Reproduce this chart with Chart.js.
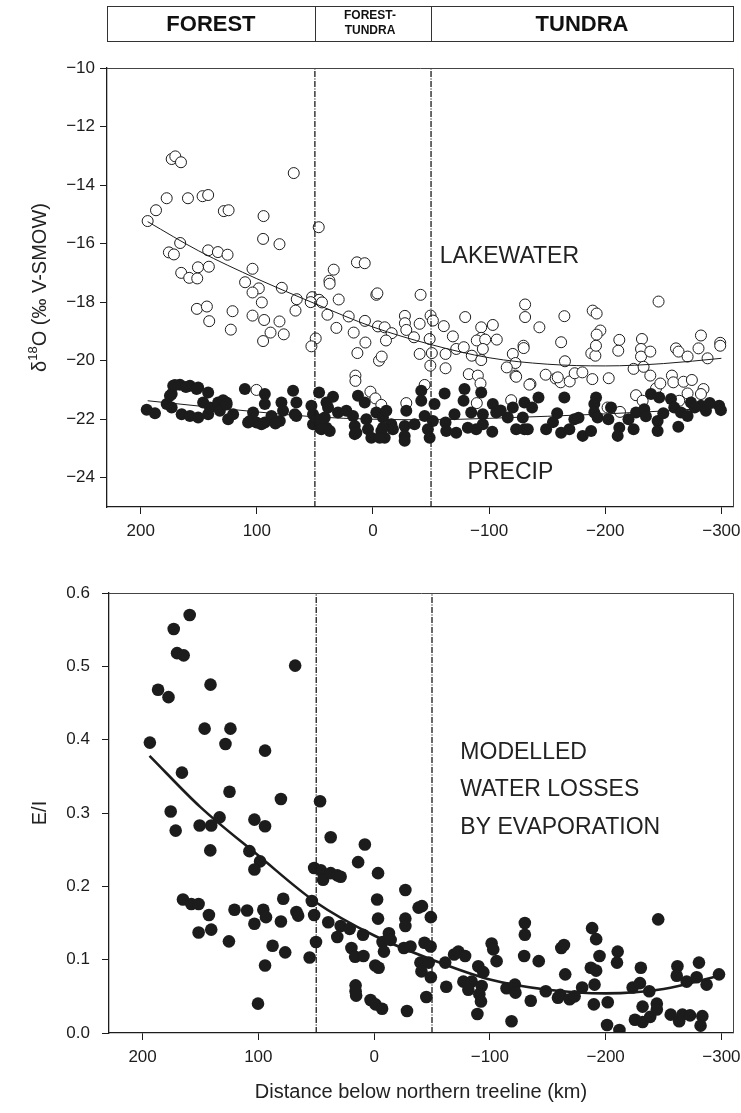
<!DOCTYPE html>
<html><head><meta charset="utf-8">
<script src="https://cdn.jsdelivr.net/npm/chart.js@4.4.1/dist/chart.umd.min.js"></script>
<style>
html,body{margin:0;padding:0;background:#fff;}
#wrap{position:relative;width:741px;height:1113px;overflow:hidden;}
canvas{position:absolute;left:0;}
#c1{top:0;} #c2{top:560px;}
</style></head><body>
<div id="wrap"><canvas id="c1" width="741" height="560"></canvas><canvas id="c2" width="741" height="553"></canvas></div>
<script>
// ---------- DATA ----------
const zoneBounds = [50, -50];
const zoneNames = ['FOREST', ['FOREST-', 'TUNDRA'], 'TUNDRA'];
const xTickValues = [200, 100, 0, -100, -200, -300];
const xTickLabels = ['200', '100', '0', '\u2212100', '\u2212200', '\u2212300'];
const isoTickValues = [-10, -12, -14, -16, -18, -20, -22, -24];
const isoTickLabels = ['\u221210', '\u221212', '\u221214', '\u221216', '\u221218', '\u221220', '\u221222', '\u221224'];
const eiTickValues = [0, 0.1, 0.2, 0.3, 0.4, 0.5, 0.6];
const eiTickLabels = ['0.0', '0.1', '0.2', '0.3', '0.4', '0.5', '0.6'];

// lakewater δ18O (open circles) [distance km, δ18O]
const lakewater = [[194,-15.23],[186.8,-14.86],[177.6,-14.45],[173.3,-13.11],[170.2,-13.02],[165.3,-13.22],[159.3,-14.45],[146.7,-14.38],[141.9,-14.34],[128.4,-14.89],[124.3,-14.86],[94.2,-15.06],[68.2,-13.59],[46.7,-15.44],[166,-15.98],[175.7,-16.3],[171.4,-16.37],[141.9,-16.23],[133.5,-16.29],[125.2,-16.38],[94.6,-15.84],[80.5,-16.02],[165.1,-17.0],[158.2,-17.17],[151.3,-17.19],[150.7,-16.81],[141.3,-16.79],[103.7,-16.86],[110.1,-17.32],[98.3,-17.53],[103.7,-17.67],[95.7,-18.01],[78.5,-17.51],[65.6,-17.9],[66.7,-18.29],[52.4,-17.83],[46.4,-17.92],[53.6,-18.0],[43.9,-18.01],[151.6,-18.23],[143,-18.15],[141,-18.65],[120.9,-18.31],[122.4,-18.94],[103.7,-18.46],[93.7,-18.61],[80.5,-18.66],[88.2,-19.04],[76.8,-19.1],[94.6,-19.33],[49.3,-19.24],[53,-19.51],[39.2,-18.43],[33.8,-16.89],[37.5,-17.27],[37.3,-17.37],[29.5,-17.91],[31.5,-18.88],[20.9,-18.49],[16.6,-19.04],[13.8,-16.64],[7.1,-16.67],[6.9,-18.64],[6.5,-19.38],[-2.9,-17.75],[-3.8,-17.7],[-4.3,-18.83],[-10.1,-18.86],[-16.1,-19.06],[-11.2,-19.31],[-27.5,-18.47],[-27.5,-18.72],[-28.7,-18.95],[-35.3,-19.2],[-41,-17.75],[13.4,-19.74],[-5.2,-20.0],[-7.5,-19.86],[-40.2,-18.74],[-40.2,-19.77],[15.1,-20.51],[15.1,-20.69],[100.3,-21.0],[2.2,-21.06],[-2.1,-21.29],[-7.2,-21.51],[-28.7,-21.45],[-49.6,-18.46],[-51.6,-18.63],[-61,-18.82],[-79.4,-18.51],[-48.8,-19.26],[-68.8,-19.17],[-93.2,-18.86],[-103.2,-18.78],[-93.2,-19.22],[-89.4,-19.31],[-96.6,-19.28],[-106.6,-19.28],[-131,-18.08],[-131,-18.51],[-143.3,-18.86],[-164.8,-18.48],[-189.2,-18.29],[-192.6,-18.39],[-195.8,-18.97],[-192.6,-19.11],[-245.9,-17.98],[-212.1,-19.29],[-231.6,-19.26],[-282.4,-19.14],[-299,-19.39],[-299,-19.49],[-162,-19.37],[-129.6,-19.49],[-50.7,-19.74],[-49.4,-20.17],[-62.5,-19.77],[-62.5,-20.26],[-71.7,-19.6],[-78.2,-19.54],[-85.1,-19.83],[-82.5,-20.46],[-90.3,-20.51],[-92.6,-20.78],[-93.2,-19.98],[-94.6,-19.6],[-120.4,-19.77],[-122.7,-20.08],[-115.2,-20.23],[-122.7,-20.51],[-129.8,-19.57],[-135.6,-20.8],[-119,-21.35],[-148.7,-20.48],[-157.3,-20.61],[-165.3,-20.02],[-161.6,-20.74],[-169.4,-20.71],[-173.7,-20.43],[-180.3,-20.4],[-188.9,-20.63],[-188,-19.75],[-191.5,-19.83],[-192,-19.49],[-203,-20.6],[-202,-21.6],[-211.2,-19.66],[-212.7,-21.75],[-224.4,-20.28],[-226.5,-21.18],[-230.8,-19.6],[-230.8,-19.86],[-233,-20.21],[-232.2,-21.37],[-238.8,-19.69],[-238.8,-20.51],[-243.7,-20.95],[-247.4,-20.78],[-257.4,-20.51],[-258.6,-20.74],[-260.9,-19.58],[-263.1,-19.69],[-267.4,-20.72],[-270.9,-19.86],[-274.6,-20.66],[-270.9,-21.12],[-263.7,-21.37],[-280.3,-19.58],[-284.6,-20.97],[-282.4,-21.14],[-288.1,-19.92],[-44.5,-20.83],[-89.4,-21.45],[-123.3,-20.55],[-134.7,-20.82],[-159.1,-20.57]];

// precipitation δ18O (filled circles)
const precip = [[194.8,-21.68],[187.7,-21.8],[177.6,-21.48],[173.3,-21.6],[172,-20.86],[166.2,-20.82],[173.3,-21.14],[164.7,-21.83],[157.6,-20.86],[150.5,-20.92],[157.6,-21.89],[150.5,-21.94],[141.9,-21.09],[146.2,-21.43],[141.9,-21.83],[140.4,-21.6],[133.3,-21.43],[131.8,-21.71],[126.1,-21.43],[124.7,-22.0],[120.4,-21.83],[110.3,-20.97],[93.1,-21.14],[93.1,-21.48],[103.2,-21.77],[106,-22.06],[100.3,-22.11],[93.1,-22.11],[87.4,-21.89],[80.2,-22.06],[78.8,-21.43],[77.4,-21.71],[68.8,-21.03],[65.9,-21.43],[67.3,-21.83],[53,-21.54],[51.6,-21.83],[46.4,-21.09],[51.6,-22.17],[45.8,-22.29],[40,-21.43],[40,-22.29],[174.8,-21.2],[170.5,-20.83],[161,-20.9],[151.8,-20.97],[129,-21.35],[126,-21.5],[107.5,-22.11],[96,-22.17],[84,-22.15],[66,-21.89],[48,-22.0],[34.4,-21.23],[38.7,-21.6],[41.5,-21.94],[44.4,-22.34],[37.2,-22.4],[30.1,-21.77],[22.9,-21.71],[17.2,-21.89],[12.9,-21.2],[7.1,-21.43],[15.7,-22.23],[15.7,-22.51],[5.7,-22.0],[4.3,-22.34],[1.4,-22.63],[-2.9,-21.77],[-8.6,-21.94],[-7.2,-22.4],[-10.1,-22.63],[-11.5,-21.71],[-15.8,-22.17],[-17.2,-22.34],[-27.3,-22.23],[-27.3,-22.57],[-28.7,-21.71],[-27.3,-22.74],[-35.8,-22.17],[-41.6,-21.03],[-41.6,-21.37],[-44.5,-21.89],[-47.3,-22.34],[-48.8,-22.63],[-53,-21.48],[-51.6,-22.06],[-61.7,-21.12],[-62.5,-22.11],[-63.1,-22.4],[-70.2,-21.83],[-71.7,-22.46],[-78.8,-20.97],[-78,-21.37],[-84.6,-21.77],[-81.7,-22.29],[-88.9,-22.34],[-93.2,-21.09],[-94.6,-21.83],[-94.6,-22.17],[-103.2,-21.48],[-106.1,-21.77],[-102.7,-22.43],[-116.1,-21.94],[-120.4,-21.6],[-130.4,-21.43],[-129,-21.94],[-123.3,-22.34],[-130.4,-22.34],[-142.5,-21.26],[-133.3,-22.34],[-149.1,-22.34],[-158.6,-21.8],[-164.8,-21.26],[-162,-22.46],[-169.1,-22.34],[-173.4,-22.0],[-180.6,-22.57],[-187.8,-22.4],[-190.6,-21.48],[-192.1,-21.26],[-190.6,-21.77],[-193.4,-21.94],[-202.7,-22.0],[-212.1,-22.29],[-210.7,-22.57],[-224.4,-22.34],[-226.5,-21.77],[-233.6,-21.66],[-239.4,-21.14],[-246.5,-21.26],[-245.1,-22.06],[-245.1,-22.4],[-256.6,-21.31],[-259.4,-21.6],[-262.9,-22.26],[-265.2,-21.77],[-270.9,-21.89],[-273.8,-21.43],[-282.4,-21.54],[-286.7,-21.71],[-298.1,-21.54],[-299.6,-21.69],[-110,-21.7],[-137,-21.6],[-155,-22.1],[-177,-21.95],[-205,-21.6],[-220,-22.0],[-235,-21.9],[-250,-21.8],[-277,-21.6],[-290,-21.45],[-5.8,-22.63],[-8.6,-22.29],[14.3,-22.46]];

// fitted trends
const lakeFit = [[194,-15.25],[150,-16.25],[100,-17.2],[50,-18.05],[0,-18.85],[-50,-19.45],[-100,-19.9],[-150,-20.12],[-200,-20.18],[-250,-20.1],[-300,-19.92]];
const precipFit = [[194,-21.37],[150,-21.55],[100,-21.75],[50,-21.92],[0,-22.0],[-50,-22.02],[-100,-21.97],[-150,-21.9],[-200,-21.82],[-250,-21.72],[-300,-21.6]];

// modelled E/I (filled circles)
const evapInflow = [[193.7,0.396],[186.6,0.468],[177.6,0.458],[173.1,0.551],[170.2,0.518],[164.5,0.515],[159.3,0.570],[141.3,0.475],[146.4,0.415],[124.1,0.415],[128.4,0.394],[94.2,0.385],[68.2,0.501],[166,0.355],[124.9,0.329],[80.5,0.319],[46.7,0.316],[175.7,0.302],[133.5,0.294],[103.4,0.291],[171.4,0.276],[150.7,0.283],[140.7,0.283],[94.2,0.282],[141.5,0.249],[107.7,0.248],[98.5,0.234],[103.4,0.223],[165.1,0.182],[157.9,0.176],[151.6,0.176],[142.7,0.161],[151.6,0.137],[140.7,0.141],[120.6,0.168],[109.7,0.167],[95.7,0.168],[93.4,0.158],[103.4,0.149],[125.4,0.125],[78.5,0.183],[80.5,0.152],[67.1,0.165],[65.6,0.160],[87.7,0.119],[76.8,0.110],[94.2,0.092],[100.3,0.040],[51.8,0.225],[46.1,0.222],[44.1,0.209],[37.5,0.267],[37.5,0.218],[31.8,0.215],[28.9,0.213],[8,0.257],[13.8,0.233],[-3.4,0.218],[-27,0.195],[-2.6,0.182],[-3.4,0.156],[-27,0.156],[-27,0.146],[53.8,0.180],[51.8,0.161],[39.6,0.151],[28.9,0.146],[21.1,0.142],[31.8,0.131],[9.6,0.134],[50.2,0.124],[55.7,0.103],[19.6,0.116],[16.4,0.104],[9.2,0.105],[-1,0.092],[-3.9,0.089],[-7.3,0.124],[-12.8,0.136],[-14.3,0.127],[-8.5,0.111],[-25.7,0.116],[-31.4,0.118],[16,0.065],[16,0.057],[15.5,0.051],[3.1,0.045],[-1.2,0.039],[-6.9,0.033],[-28.4,0.030],[-38.4,0.171],[-41.3,0.173],[-49,0.158],[-43.5,0.123],[-48.8,0.118],[-40,0.096],[-47.2,0.096],[-40.9,0.084],[-49,0.076],[-45.1,0.049],[-61.4,0.096],[-62.3,0.063],[-69.1,0.107],[-72.8,0.111],[-78.6,0.105],[-77.1,0.070],[-84.3,0.070],[-81.4,0.059],[-90,0.091],[-94.3,0.083],[-92.9,0.064],[-90.9,0.053],[-92.3,0.043],[-89.2,0.026],[-101.5,0.122],[-102.9,0.114],[-105.8,0.098],[-114.4,0.061],[-121.6,0.066],[-122.1,0.055],[-118.7,0.016],[-130.2,0.150],[-130.2,0.134],[-129.6,0.105],[-135.3,0.044],[-142.2,0.098],[-148.3,0.057],[-158.8,0.048],[-160.8,0.052],[-161.7,0.116],[-164,0.120],[-165.1,0.080],[-168.9,0.046],[-173.2,0.050],[-179.7,0.062],[-188.3,0.143],[-191.8,0.128],[-194.7,0.105],[-187.2,0.089],[-191.8,0.085],[-190.4,0.066],[-189.8,0.039],[-201.8,0.042],[-201.2,0.011],[-211.9,0.004],[-210.4,0.111],[-209.8,0.096],[-223.3,0.062],[-230.4,0.089],[-229.6,0.068],[-231.9,0.036],[-225.3,0.018],[-231.9,0.015],[-238.5,0.022],[-237.7,0.057],[-244.2,0.040],[-244.2,0.032],[-245.4,0.155],[-262,0.091],[-261.4,0.078],[-270,0.070],[-256.2,0.025],[-263.5,0.016],[-266.3,0.025],[-272.9,0.024],[-280.6,0.096],[-278.6,0.076],[-287.2,0.066],[-283.5,0.023],[-282,0.010],[-297.9,0.080]];
const evapFit = [[194,0.378],[150,0.308],[100,0.242],[50,0.178],[0,0.133],[-50,0.1],[-100,0.073],[-150,0.059],[-200,0.054],[-250,0.06],[-298,0.078]];

// ---------- STYLE / HELPERS ----------
const FONT = "'Liberation Sans', Arial, Helvetica, sans-serif";
const INK = '#1c1c1c';
const X_MIN = -310, X_MAX = 229;
const pts = arr => arr.map(p => ({x: p[0], y: p[1]}));

function xScale(h, title) {
  return {
    type: 'linear', min: X_MIN, max: X_MAX, reverse: true,
    afterBuildTicks: s => { s.ticks = xTickValues.map(v => ({value: v})); },
    afterFit: s => { s.height = h; s.paddingLeft = 0; s.paddingRight = 0; },
    grid: {display: true, drawOnChartArea: false, drawTicks: true, tickLength: 7, color: INK, lineWidth: 1},
    border: {display: true, color: INK, width: 1.3},
    ticks: {font: {family: FONT, size: 17}, color: INK, padding: 7, maxRotation: 0, autoSkip: false,
      callback: (v, i) => xTickLabels[i]},
    title: title || {display: false}
  };
}
function yScale(min, max, vals, labels, w, pad, title) {
  return {
    type: 'linear', min, max,
    afterBuildTicks: s => { s.ticks = vals.map(v => ({value: v})); },
    afterFit: s => { s.width = w; s.paddingTop = 0; s.paddingBottom = 0; },
    grid: {display: true, drawOnChartArea: false, drawTicks: true, tickLength: 7, color: INK, lineWidth: 1},
    border: {display: true, color: INK, width: 1.3},
    ticks: {font: {family: FONT, size: 17}, color: INK, padding: pad, autoSkip: false,
      callback: (v, i) => labels[i]},
    title: title || {display: false}
  };
}
function zoneLines(ymin, ymax) {
  return zoneBounds.map(b => ({
    type: 'line', data: [{x: b, y: ymin}, {x: b, y: ymax}],
    borderColor: '#1a1a1a', borderWidth: 1.3, borderDash: [6, 1.5, 1, 1.5],
    pointRadius: 0, showLine: true, fill: false
  }));
}
function fitLine(arr, w) {
  return {type: 'line', data: pts(arr), borderColor: INK, borderWidth: w,
    pointRadius: 0, showLine: true, fill: false, cubicInterpolationMode: 'monotone'};
}
const frame = {
  id: 'frame',
  afterDatasetsDraw(chart) {
    const {ctx, chartArea: a} = chart;
    ctx.save();
    ctx.strokeStyle = '#444'; ctx.lineWidth = 1;
    ctx.beginPath();
    ctx.moveTo(a.left, a.top + 0.5); ctx.lineTo(a.right + 0.5, a.top + 0.5); ctx.lineTo(a.right + 0.5, a.bottom);
    ctx.stroke();
    ctx.restore();
  }
};
function notes(items) {
  return {
    id: 'notes',
    afterDraw(chart) {
      const {ctx} = chart; const xs = chart.scales.x, ys = chart.scales.y;
      ctx.save();
      ctx.fillStyle = '#222'; ctx.font = '23px ' + FONT; ctx.textAlign = 'left'; ctx.textBaseline = 'middle';
      items.forEach(it => ctx.fillText(it.text, xs.getPixelForValue(it.x), ys.getPixelForValue(it.y)));
      ctx.restore();
    }
  };
}
const header = {
  id: 'header',
  afterDraw(chart) {
    const {ctx, chartArea: a} = chart; const xs = chart.scales.x;
    const top = 6, bot = 41;
    const b1 = xs.getPixelForValue(zoneBounds[0]), b2 = xs.getPixelForValue(zoneBounds[1]);
    ctx.save();
    ctx.strokeStyle = '#333'; ctx.lineWidth = 1;
    ctx.strokeRect(a.left + 0.5, top + 0.5, a.right - a.left, bot - top);
    ctx.beginPath();
    ctx.moveTo(Math.round(b1) + 0.5, top); ctx.lineTo(Math.round(b1) + 0.5, bot);
    ctx.moveTo(Math.round(b2) + 0.5, top); ctx.lineTo(Math.round(b2) + 0.5, bot);
    ctx.stroke();
    ctx.fillStyle = '#111'; ctx.textAlign = 'center'; ctx.textBaseline = 'middle';
    ctx.font = 'bold 22px ' + FONT;
    ctx.fillText(zoneNames[0], (a.left + b1) / 2, 25);
    ctx.fillText(zoneNames[2], (b2 + a.right) / 2, 25);
    ctx.font = 'bold 12px ' + FONT;
    ctx.fillText(zoneNames[1][0], (b1 + b2) / 2 - 3, 16);
    ctx.fillText(zoneNames[1][1], (b1 + b2) / 2 - 3, 31);
    // y-axis title with superscript
    const cy = (a.top + a.bottom) / 2;
    ctx.translate(40, cy); ctx.rotate(-Math.PI / 2);
    const f1 = '20px ' + FONT, f2 = '13px ' + FONT;
    ctx.font = f1; const w1 = ctx.measureText('\u03b4').width, w3 = ctx.measureText('O (\u2030 V-SMOW)').width;
    ctx.font = f2; const w2 = ctx.measureText('18').width;
    let sx = -(w1 + w2 + w3) / 2;
    ctx.textAlign = 'left'; ctx.fillStyle = '#222';
    ctx.font = f1; ctx.fillText('\u03b4', sx, 0);
    ctx.font = f2; ctx.fillText('18', sx + w1, -7);
    ctx.font = f1; ctx.fillText('O (\u2030 V-SMOW)', sx + w1 + w2, 0);
    ctx.restore();
  }
};

// ---------- CHART 1: δ18O ----------
new Chart(document.getElementById('c1'), {
  type: 'scatter',
  data: {datasets: [
    ...zoneLines(-25, -10),
    fitLine(precipFit, 1),
    fitLine(lakeFit, 1),
    {label: 'PRECIP', data: pts(precip), backgroundColor: INK, borderColor: INK, borderWidth: 0, pointRadius: 6},
    {label: 'LAKEWATER', data: pts(lakewater), backgroundColor: '#fff', borderColor: INK, borderWidth: 1, pointRadius: 5.5}
  ]},
  options: {
    responsive: false, animation: false, devicePixelRatio: 1,
    layout: {padding: {left: 0, right: 8, top: 68, bottom: 0}},
    plugins: {legend: {display: false}, tooltip: {enabled: false}},
    scales: {
      x: xScale(53),
      y: yScale(-25, -10, isoTickValues, isoTickLabels, 107, 5)
    }
  },
  plugins: [frame, header, notes([{text: 'LAKEWATER', x: -57.5, y: -16.46}, {text: 'PRECIP', x: -81.5, y: -23.83}])]
});

// ---------- CHART 2: E/I ----------
new Chart(document.getElementById('c2'), {
  type: 'scatter',
  data: {datasets: [
    ...zoneLines(0, 0.6),
    fitLine(evapFit, 2.6),
    {label: 'E/I', data: pts(evapInflow), backgroundColor: INK, borderColor: INK, borderWidth: 0, pointRadius: 6.3}
  ]},
  options: {
    responsive: false, animation: false, devicePixelRatio: 1,
    layout: {padding: {left: 0, right: 8, top: 33, bottom: 0}},
    plugins: {legend: {display: false}, tooltip: {enabled: false}},
    scales: {
      x: xScale(80, {display: true, text: 'Distance below northern treeline (km)', color: '#222',
        font: {family: FONT, size: 20}, padding: {top: 4, bottom: 9}}),
      y: yScale(0, 0.6, eiTickValues, eiTickLabels, 109, 12, {display: true, text: 'E/I', color: '#222',
        font: {family: FONT, size: 20}, padding: {top: 28, bottom: 0}})
    }
  },
  plugins: [frame, notes([{text: 'MODELLED', x: -74.5, y: 0.382}, {text: 'WATER LOSSES', x: -74.5, y: 0.332}, {text: 'BY EVAPORATION', x: -74.5, y: 0.28}])]
});
</script>
</body></html>
